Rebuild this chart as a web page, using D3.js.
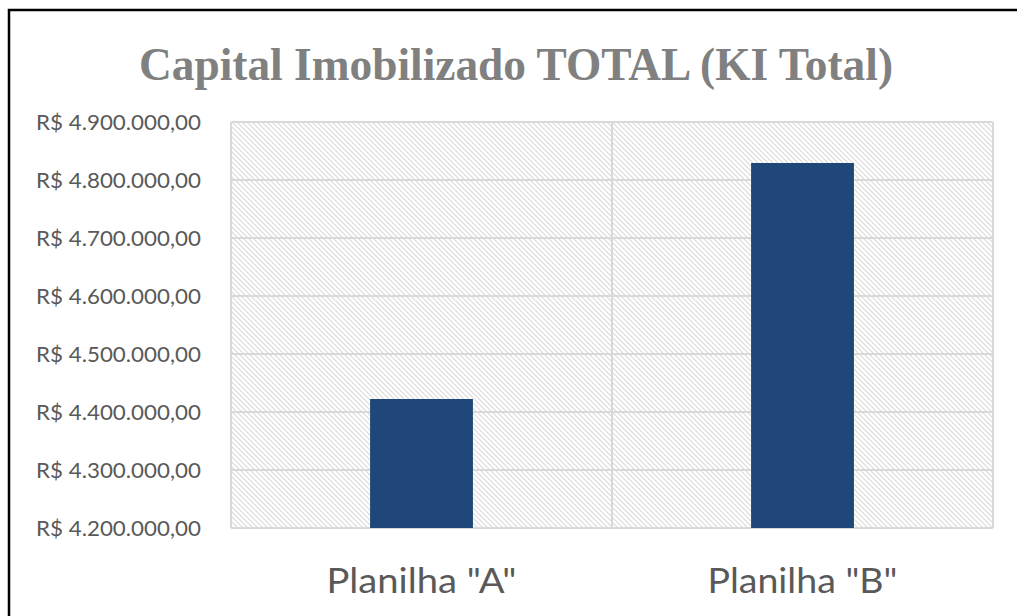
<!DOCTYPE html>
<html>
<head>
<meta charset="utf-8">
<script src="https://cdn.jsdelivr.net/npm/d3@7"></script>
<style>
  body { margin: 0; background: #fff; }
  svg { display: block; }
</style>
</head>
<body>
<svg id="chart" width="1017" height="616"></svg>
<script>
// Chart data
var categories = ['Planilha "A"', 'Planilha "B"'];
var values = [4422400, 4829300];
var tickValues = [4200000, 4300000, 4400000, 4500000, 4600000, 4700000, 4800000, 4900000];
var title = "Capital Imobilizado TOTAL (KI Total)";
var caption = "Gráfico 3 – Comparativo do Capital de Imobilização (KI Total, em Reais)";

// Plot area edges
var plotLeft = 231, plotRight = 993, plotTop = 122, plotBottom = 528;

var svg = d3.select("#chart");

// Brazilian currency format
var brl = d3.formatLocale({ decimal: ",", thousands: ".", grouping: [3], currency: ["R$ ", ""] });
var fmt = brl.format("$,.2f");

var x = d3.scaleBand().domain(categories).range([plotLeft, plotRight]).paddingInner(0.73).paddingOuter(0.365);
var y = d3.scaleLinear().domain([4200000, 4900000]).range([plotBottom, plotTop]);

// Hatch pattern for plot area
var pat = svg.append("defs").append("pattern")
  .attr("id", "hatch")
  .attr("patternUnits", "userSpaceOnUse")
  .attr("width", 5).attr("height", 5);
pat.append("path")
  .attr("d", "M-1,-1 L6,6 M-1,4 L1,6 M4,-1 L6,1")
  .attr("stroke", "#dadada")
  .attr("stroke-width", 1.2);

// Page caption, clipped at the top edge (only its lowest pixels show)
svg.append("text")
  .attr("x", 766).attr("y", -5)
  .attr("text-anchor", "end")
  .attr("font-family", "Liberation Serif")
  .attr("font-size", 24)
  .attr("fill", "#000")
  .text(caption);

// Frame
svg.append("rect")
  .attr("x", 9).attr("y", 10)
  .attr("width", 1100).attr("height", 700)
  .attr("fill", "#fff")
  .attr("stroke", "#000")
  .attr("stroke-width", 2.5);

// Title
svg.append("text")
  .attr("x", 516).attr("y", 80)
  .attr("text-anchor", "middle")
  .attr("font-family", "Liberation Serif")
  .attr("font-weight", "bold")
  .attr("font-size", 46)
  .attr("fill", "#808080")
  .attr("textLength", 754)
  .attr("lengthAdjust", "spacingAndGlyphs")
  .text(title);

// Plot area background
svg.append("rect")
  .attr("x", plotLeft).attr("y", plotTop)
  .attr("width", plotRight - plotLeft).attr("height", plotBottom - plotTop)
  .attr("fill", "url(#hatch)");

// Horizontal gridlines
svg.append("g").selectAll("line")
  .data(tickValues).enter()
  .append("line")
  .attr("x1", plotLeft).attr("x2", plotRight)
  .attr("y1", function (d) { return y(d); })
  .attr("y2", function (d) { return y(d); })
  .attr("stroke", "#d9d9d9")
  .attr("stroke-width", 2);

// Vertical gridlines (category boundaries)
var bounds = [plotLeft, (plotLeft + plotRight) / 2, plotRight];
svg.append("g").selectAll("line")
  .data(bounds).enter()
  .append("line")
  .attr("x1", function (d) { return d; })
  .attr("x2", function (d) { return d; })
  .attr("y1", plotTop).attr("y2", plotBottom)
  .attr("stroke", "#d9d9d9")
  .attr("stroke-width", 2);

// Bars
svg.append("g").selectAll("rect")
  .data(values).enter()
  .append("rect")
  .attr("x", function (d, i) { return x(categories[i]); })
  .attr("width", x.bandwidth())
  .attr("y", function (d) { return y(d); })
  .attr("height", function (d) { return plotBottom - y(d); })
  .attr("fill", "#1f4878");

// Y axis
var yAxis = svg.append("g")
  .attr("transform", "translate(" + (plotLeft - 30) + ",0)")
  .call(d3.axisLeft(y).tickValues(tickValues).tickFormat(fmt).tickSize(0).tickPadding(0));
yAxis.select(".domain").remove();
yAxis.selectAll("text")
  .attr("font-family", "Lato")
  .attr("font-size", 22)
  .attr("fill", "#595959")
  .attr("textLength", 165)
  .attr("lengthAdjust", "spacingAndGlyphs");

// X axis
var xAxis = svg.append("g")
  .attr("transform", "translate(0," + plotBottom + ")")
  .call(d3.axisBottom(x).tickSize(0).tickPadding(0));
xAxis.select(".domain").remove();
xAxis.selectAll("text")
  .attr("dy", 0)
  .attr("y", 65)
  .attr("font-family", "Lato")
  .attr("font-size", 34)
  .attr("fill", "#595959")
  .attr("textLength", 190)
  .attr("lengthAdjust", "spacingAndGlyphs");
</script>
</body>
</html>
